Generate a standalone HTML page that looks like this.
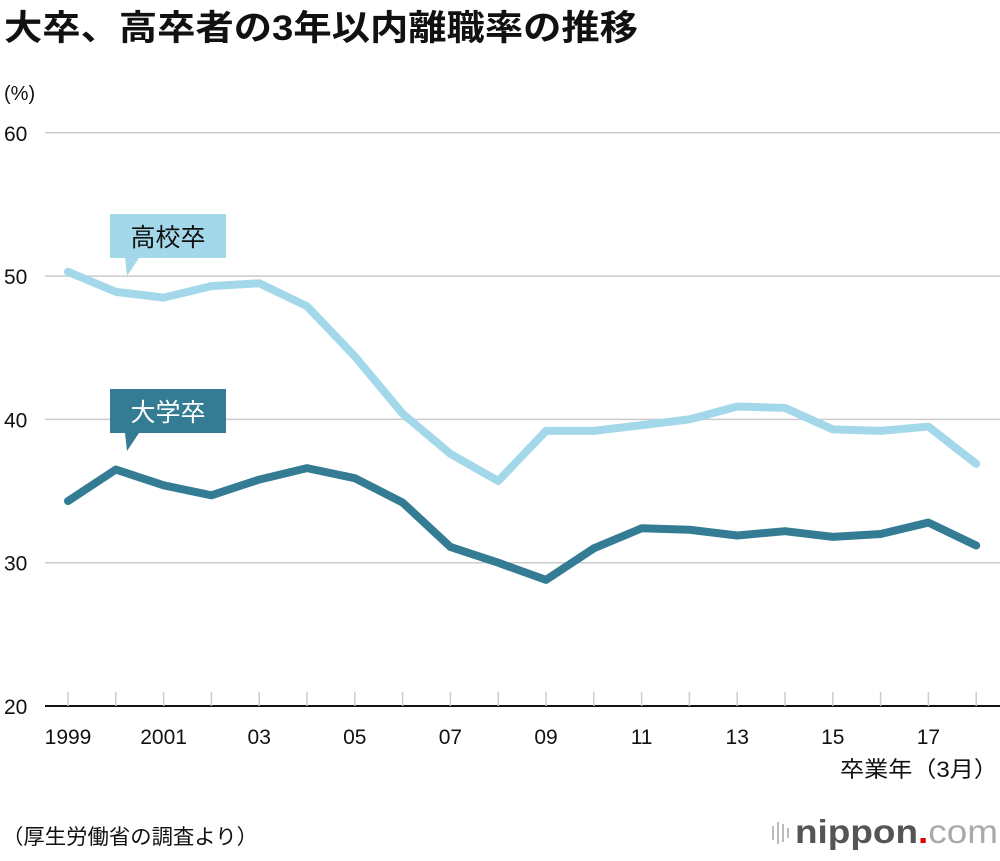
<!DOCTYPE html>
<html><head><meta charset="utf-8"><style>
body{margin:0;background:#fff;width:1000px;height:856px;overflow:hidden;font-family:"Liberation Sans","Noto Sans CJK JP",sans-serif}
svg text{font-family:"Liberation Sans","Noto Sans CJK JP",sans-serif}
</style></head><body>
<svg id="c" width="1000" height="856">
<text x="4" y="40" font-size="35" font-weight="bold" fill="#111" textLength="634" lengthAdjust="spacingAndGlyphs">大卒、高卒者の3年以内離職率の推移</text>
<text x="4" y="100" font-size="20" fill="#111">(%)</text>
<g id="grid"></g><g id="lines"></g>
<text x="998" y="777" font-size="22" text-anchor="end" fill="#111" textLength="158" lengthAdjust="spacingAndGlyphs">卒業年（3月）</text>
<text x="2" y="844" font-size="21" fill="#111" textLength="256" lengthAdjust="spacingAndGlyphs">（厚生労働省の調査より）</text>
<g>
<g fill="#bbb"><rect x="772" y="826" width="2" height="14"/><rect x="777" y="822" width="2" height="22"/><rect x="782" y="824" width="2" height="18"/><rect x="787" y="828" width="2" height="10"/></g>
<text x="795" y="843" font-size="33" fill="#555" font-weight="bold" textLength="203" lengthAdjust="spacingAndGlyphs">nippon<tspan fill="#d00">.</tspan><tspan fill="#aaa" font-weight="normal">com</tspan></text></g>
</svg>
<script>
const years=[1999,2000,2001,2002,2003,2004,2005,2006,2007,2008,2009,2010,2011,2012,2013,2014,2015,2016,2017,2018];
const highSchool=[50.3,48.9,48.5,49.3,49.5,47.9,44.4,40.4,37.6,35.7,39.2,39.2,39.6,40.0,40.9,40.8,39.3,39.2,39.5,36.9];
const university=[34.3,36.5,35.4,34.7,35.8,36.6,35.9,34.2,31.1,30.0,28.8,31.0,32.4,32.3,31.9,32.2,31.8,32.0,32.8,31.2];
const yTicks=[20,30,40,50,60];
const xLabels=["1999","2001","03","05","07","09","11","13","15","17"];
const NS="http://www.w3.org/2000/svg";
const X=i=>68+i*47.8, Y=v=>706-(v-20)*14.33;
function mk(t,a,p){const e=document.createElementNS(NS,t);for(const k in a)e.setAttribute(k,a[k]);p.appendChild(e);return e;}
const g=document.getElementById('grid'),L=document.getElementById('lines');
yTicks.forEach(v=>{
 const ln=mk('line',{x1:45,x2:1000,y1:Y(v),y2:Y(v),stroke:v==20?'#111':'#ccc','stroke-width':v==20?2:1.5},g);
 
 
 const t=mk('text',{x:4,y:Y(v)+8,'font-size':21,fill:'#111'},g);t.textContent=v;
 
 
});
years.forEach((y,i)=>{
 const tk=mk('line',{x1:X(i),x2:X(i),y1:Y(20)-14,y2:Y(20),stroke:'#ccc','stroke-width':1.5},g);
 
 
});
xLabels.forEach((s,j)=>{
 const t=mk('text',{x:X(j*2),y:744,'font-size':21,'text-anchor':'middle',fill:'#111'},g);t.textContent=s;
 
 
});
function series(vals,col,name){
 const p=mk('polyline',{points:vals.map((v,i)=>X(i)+','+Y(v)).join(' '),fill:'none',stroke:col,'stroke-width':8,'stroke-linejoin':'round','stroke-linecap':'round'},L);
 
 
}
series(highSchool,'#a3d8ea','high-school-line');
series(university,'#347c94','university-line');
function label(x,y,txt,col,tc,name,tipX){
 const gg=mk('g',{},L);
 
 
 mk('rect',{x:x,y:y,width:116,height:44,fill:col},gg);
 mk('polygon',{points:`${tipX-2},${y+44} ${tipX+12},${y+44} ${tipX},${y+62}`,fill:col},gg);
 const t=mk('text',{x:x+58,y:y+32,'font-size':25,'text-anchor':'middle',fill:tc},gg);t.textContent=txt;
}
label(110,214,'高校卒','#a3d8ea','#111','high-school-label',127);
label(110,389,'大学卒','#347c94','#fff','university-label',127);
</script>
</body></html>
